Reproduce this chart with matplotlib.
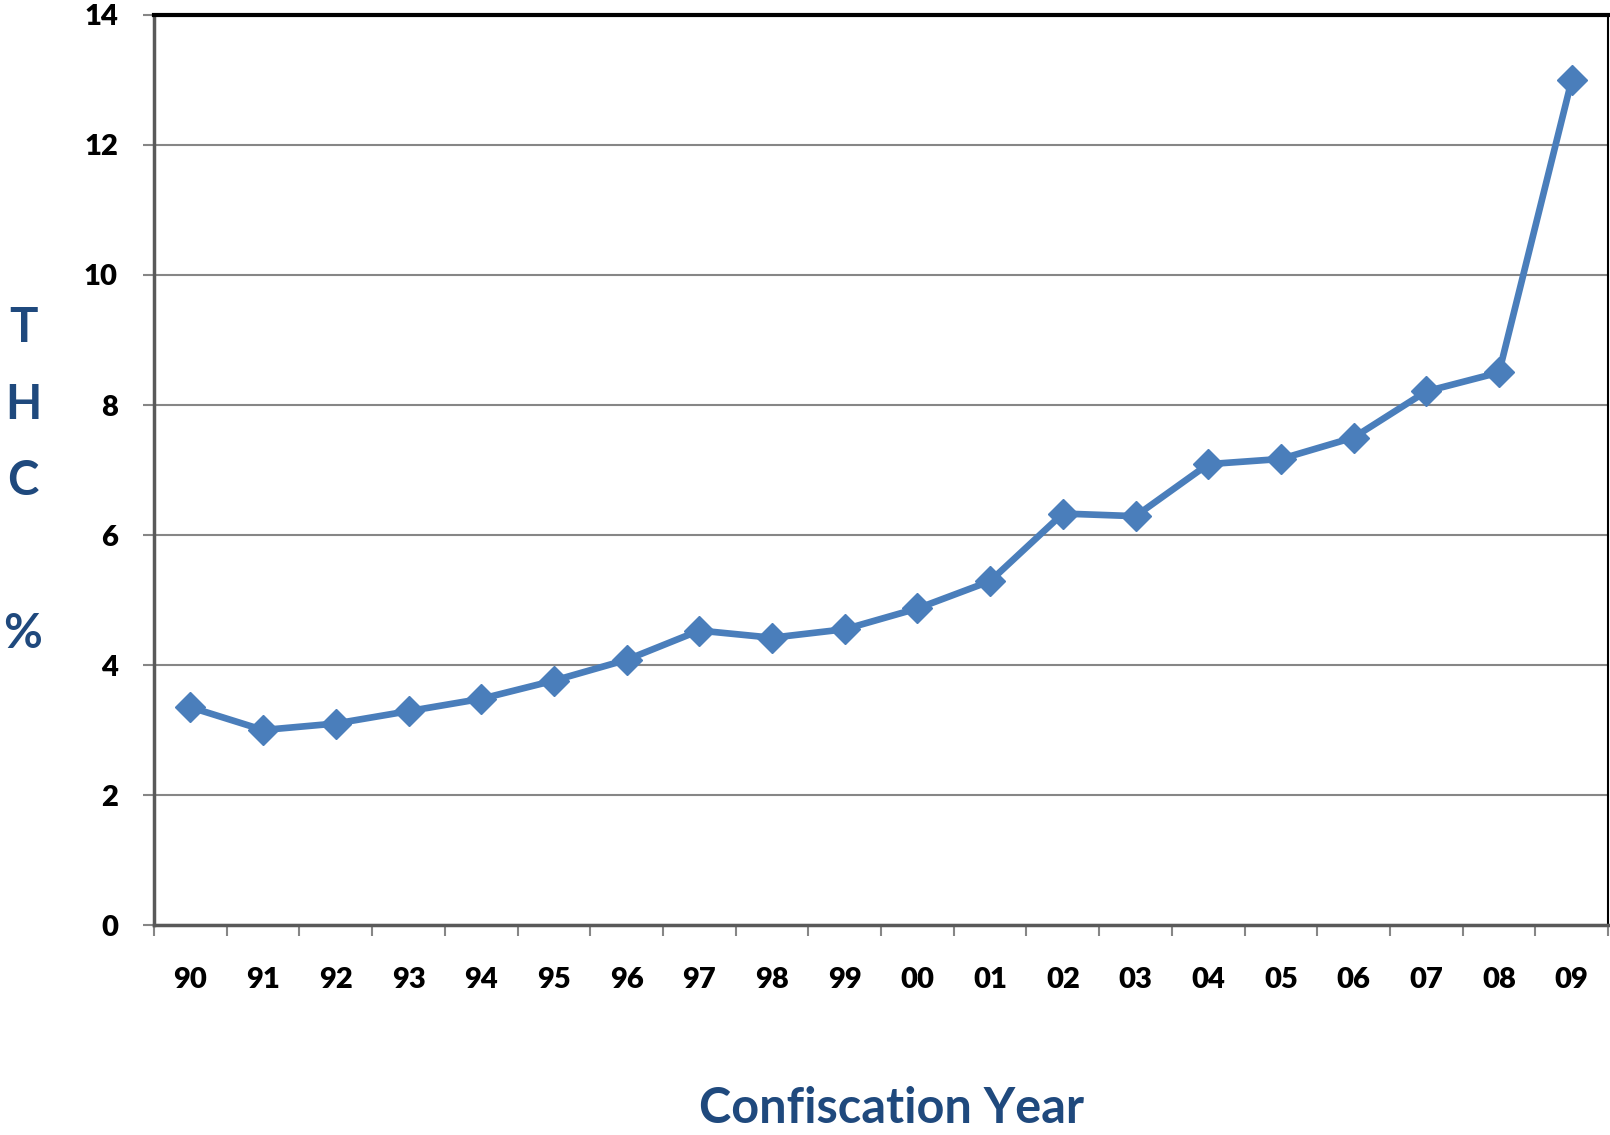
import matplotlib
matplotlib.use("Agg")
import matplotlib.pyplot as plt

# THC content by confiscation year
years = ["90", "91", "92", "93", "94", "95", "96", "97", "98", "99",
         "00", "01", "02", "03", "04", "05", "06", "07", "08", "09"]
thc = [3.35, 3.0, 3.1, 3.29, 3.48, 3.76, 4.08, 4.53, 4.42, 4.55,
       4.87, 5.29, 6.33, 6.29, 7.09, 7.17, 7.50, 8.21, 8.50, 13.0]
yticks = [0, 2, 4, 6, 8, 10, 12, 14]

plt.rcParams["font.family"] = ["Lato", "DejaVu Sans"]
plt.rcParams["font.weight"] = "bold"

fig = plt.figure(figsize=(16.1, 11.35), dpi=100)
ax = fig.add_axes([0.0957, 0.185, 0.9031, 0.8018])

x = list(range(len(years)))
ax.plot(x, thc, color="#4A7EBB", linewidth=4.8, marker="D",
        markersize=15, zorder=3)

ax.set_xlim(-0.5, len(years) - 0.5)
ax.set_ylim(0, 14)
ax.set_yticks(yticks)
ax.set_yticklabels([str(v) for v in yticks], fontsize=21, fontweight="heavy")
ax.set_xticks(x)
ax.set_xticklabels(years, fontsize=21, fontweight="heavy")
ax.set_xticks([i - 0.5 for i in range(len(years) + 1)], minor=True)

ax.yaxis.grid(True, color="#868686", linewidth=1.5)
ax.set_axisbelow(True)

ax.tick_params(axis="y", length=8, width=1.5, color="#868686", pad=18)
ax.tick_params(axis="x", which="major", length=0, pad=30)
ax.tick_params(axis="x", which="minor", length=8, width=1.5, color="#868686")

ax.spines["top"].set_color("black")
ax.spines["top"].set_linewidth(3)
ax.spines["right"].set_color("black")
ax.spines["right"].set_linewidth(1.5)
ax.spines["left"].set_color("#595959")
ax.spines["left"].set_linewidth(2.5)
ax.spines["bottom"].set_color("#595959")
ax.spines["bottom"].set_linewidth(2.5)

title_color = "#1F497D"
fig.text(0.554, 0.011, "Confiscation Year", fontsize=35, fontweight="bold",
         color=title_color, ha="center", va="baseline")
fig.text(0.0143, 0.730, "T\nH\nC\n\n%", fontsize=34, fontweight="bold",
         color=title_color, ha="center", va="top", linespacing=1.9)

fig.savefig("out.png", dpi=100)
